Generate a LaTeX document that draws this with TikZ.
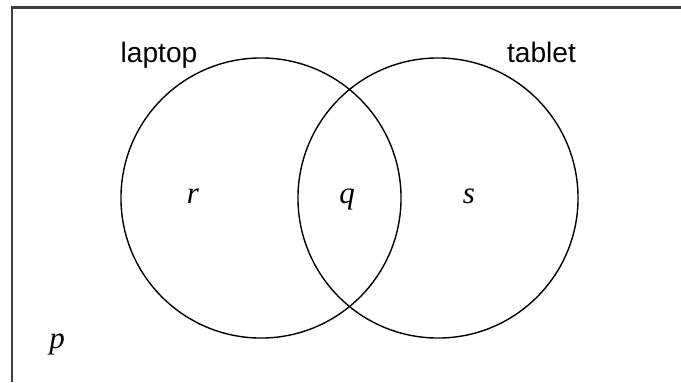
\documentclass[tikz,border=0pt]{standalone}
\usepackage{fontspec}
\setmainfont{Liberation Serif}
\setsansfont{Liberation Sans}
\usetikzlibrary{positioning}
\tikzset{
    setnode/.style = {draw, circle, fill=none, inner sep = 0em, minimum size=7cm, line width=1pt},
    labelnode/.style = {draw=none, fill=none, rectangle, inner sep = 0em, anchor=base, 
      font=\sffamily\fontsize{20}{24}\selectfont},
    varnode/.style = {draw=none, fill=none, rectangle, inner sep = 0em, anchor=base, 
      font=\itshape\fontsize{22}{26}\selectfont},
    frameline/.style = {draw=black!75, line width=1.5pt}
}

\begin{document}
\begin{tikzpicture}[x=0.025cm, y=-0.025cm]
\useasboundingbox (0,0) rectangle (681,382);
\coordinate (frameend) at (681,7.5);
\coordinate (framecorner) at (11.8,7.5);
\coordinate (framebottom) at (11.8,382);
\draw [frameline] (frameend) -- (framecorner) -- (framebottom);
\node [name=laptopset, setnode] at (261,198) {};
\node [name=tabletset, setnode] at (438,198) {};
\node [name=laptoplabel, labelnode] at (159,62) {laptop};
\node [name=tabletlabel, labelnode] at (541.5,62) {tablet};
\node [name=r, varnode] at (193,203) {r};
\node [name=q, varnode] at (347,203) {q};
\node [name=s, varnode] at (469,203) {s};
\node [name=p, varnode] at (57,348) {p};
\end{tikzpicture}
\end{document}
